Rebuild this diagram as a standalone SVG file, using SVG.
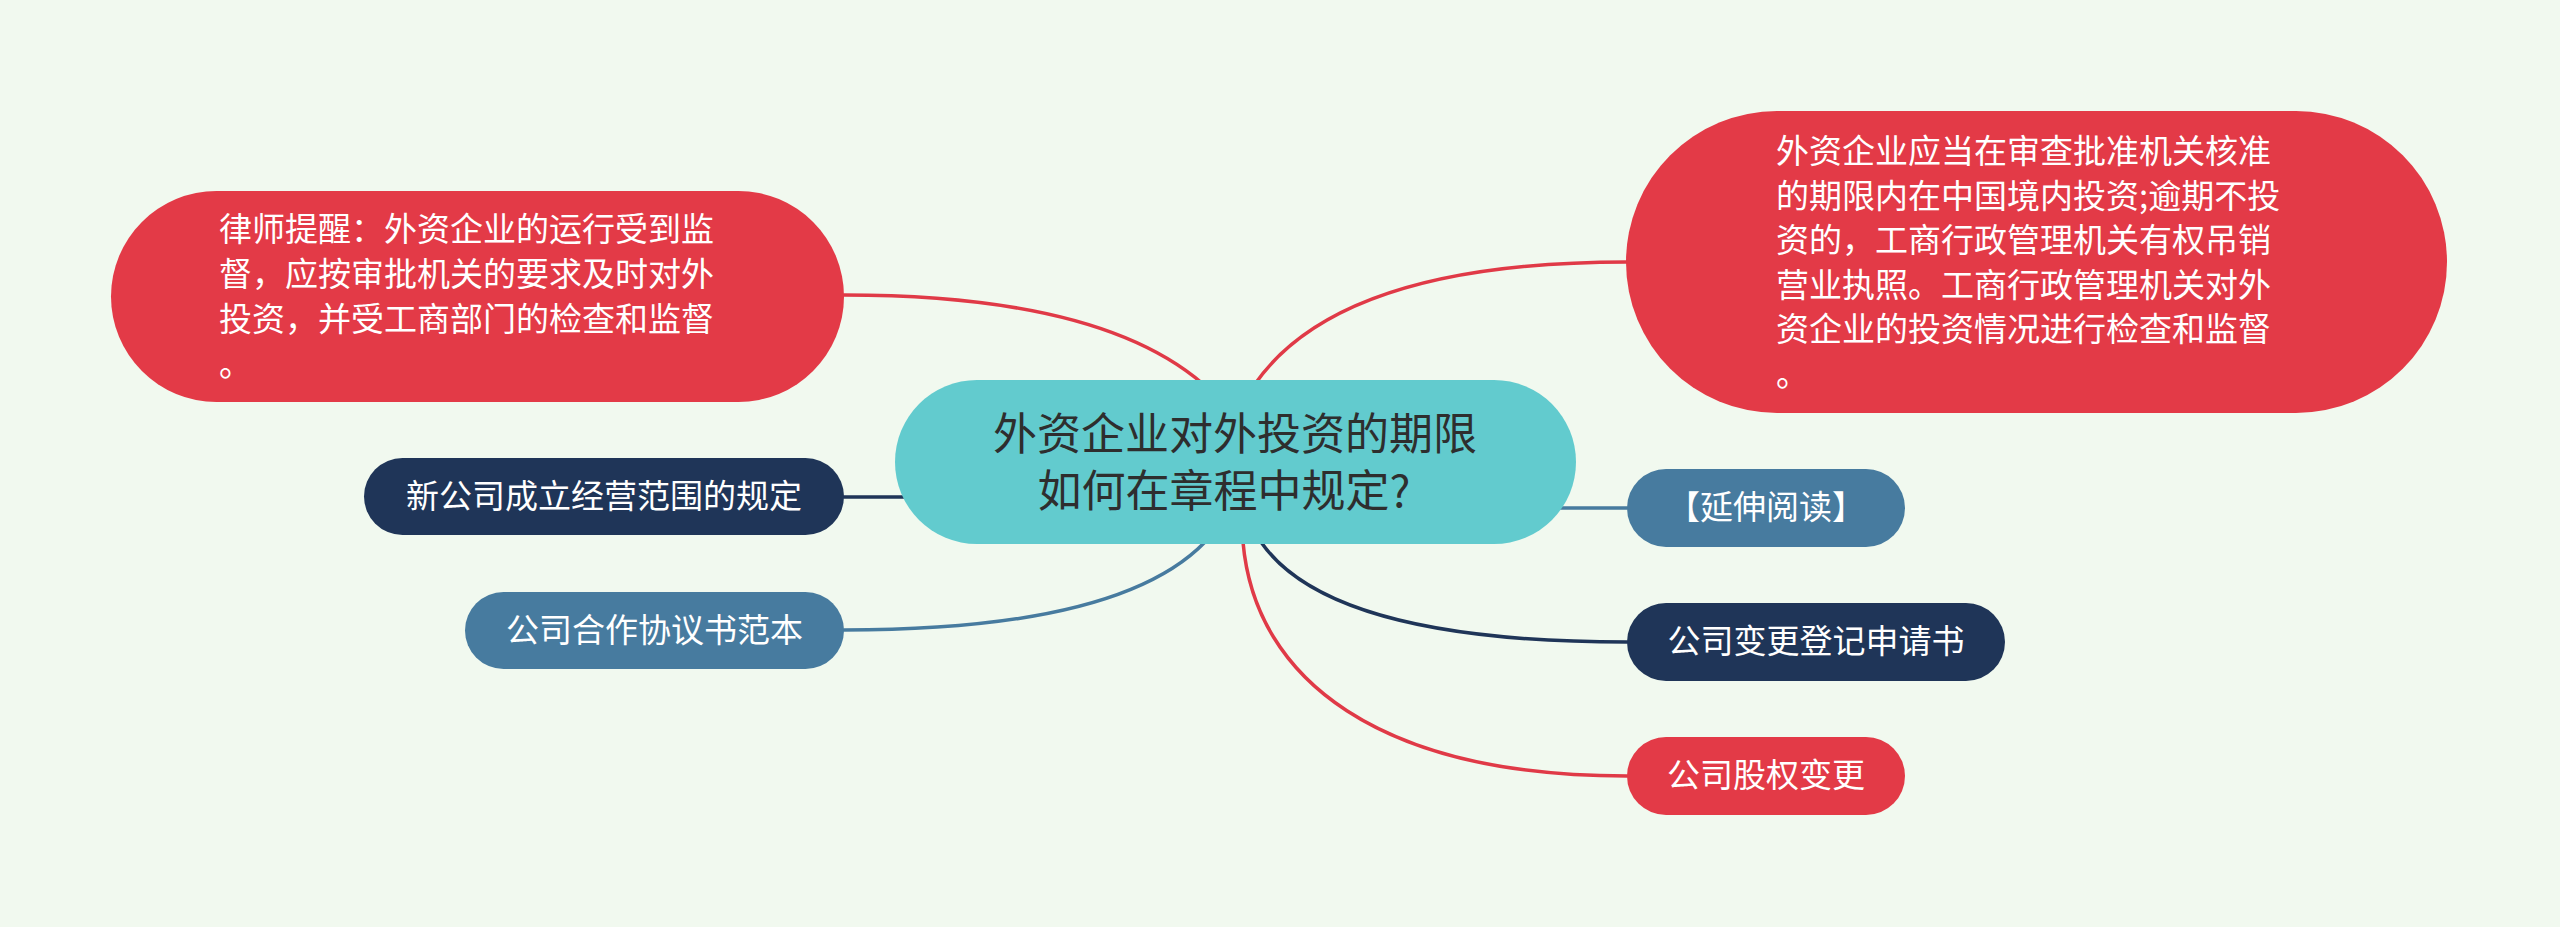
<svg xmlns="http://www.w3.org/2000/svg" width="2560" height="927" viewBox="0 0 2560 927">
<style>
text{font-family:"Noto Sans CJK SC","Liberation Sans",sans-serif;font-size:33px;fill:#ffffff}
.c{text-anchor:middle}
.red{fill:#E33A47}
.navy{fill:#1F3558}
.steel{fill:#477B9F}
.teal{fill:#62CBCE}
.ln{fill:none;stroke-width:3.5;stroke-linecap:round}
.lr{stroke:#E03A47}
.ln-n{stroke:#1F3558}
.ln-s{stroke:#477B9F}
</style>
<rect width="2560" height="927" fill="#F1F9EF"/>
<g id="connectors">
<path class="ln lr" d="M 844 295 Q 1100 295 1203 384"/>
<path class="ln lr" d="M 1627 262 Q 1340 262 1255 384"/>
<path class="ln ln-n" d="M 844 497 L 910 497"/>
<path class="ln ln-s" d="M 1560 508 L 1627 508"/>
<path class="ln ln-s" d="M 844 630 Q 1120 630 1205 542"/>
<path class="ln ln-n" d="M 1627 642 Q 1330 642 1261 542"/>
<path class="ln lr" d="M 1627 776 C 1380 776 1255 680 1243 542"/>
</g>
<g id="center">
<rect class="teal" x="895" y="380" width="681" height="164" rx="82"/>
<text class="c" x="1235" y="450" style="font-size:44px;fill:#2E2E2E">外资企业对外投资的期限</text>
<text class="c" x="1224" y="507" style="font-size:44px;fill:#2E2E2E">如何在章程中规定?</text>
</g>
<g id="node-lawyer">
<rect class="red" x="111" y="191" width="733" height="211" rx="105.5"/>
<text x="219" y="241">律师提醒：外资企业的运行受到监</text>
<text x="219" y="286">督，应按审批机关的要求及时对外</text>
<text x="219" y="331">投资，并受工商部门的检查和监督</text>
<text x="219" y="376">。</text>
</g>
<g id="node-period">
<rect class="red" x="1626" y="111" width="821" height="302" rx="151"/>
<text x="1776" y="163">外资企业应当在审查批准机关核准</text>
<text x="1776" y="208">的期限内在中国境内投资;逾期不投</text>
<text x="1776" y="252">资的，工商行政管理机关有权吊销</text>
<text x="1776" y="297">营业执照。工商行政管理机关对外</text>
<text x="1776" y="341">资企业的投资情况进行检查和监督</text>
<text x="1776" y="386">。</text>
</g>
<g id="node-scope">
<rect class="navy" x="364" y="458" width="480" height="77" rx="38.5"/>
<text class="c" x="604" y="508">新公司成立经营范围的规定</text>
</g>
<g id="node-coop">
<rect class="steel" x="465" y="592" width="379" height="77" rx="38.5"/>
<text class="c" x="654.5" y="642">公司合作协议书范本</text>
</g>
<g id="node-more">
<rect class="steel" x="1627" y="469" width="278" height="78" rx="39"/>
<text class="c" x="1766" y="519">【延伸阅读】</text>
</g>
<g id="node-change">
<rect class="navy" x="1627" y="603" width="378" height="78" rx="39"/>
<text class="c" x="1816" y="653">公司变更登记申请书</text>
</g>
<g id="node-equity">
<rect class="red" x="1627" y="737" width="278" height="78" rx="39"/>
<text class="c" x="1766" y="787">公司股权变更</text>
</g>
</svg>
